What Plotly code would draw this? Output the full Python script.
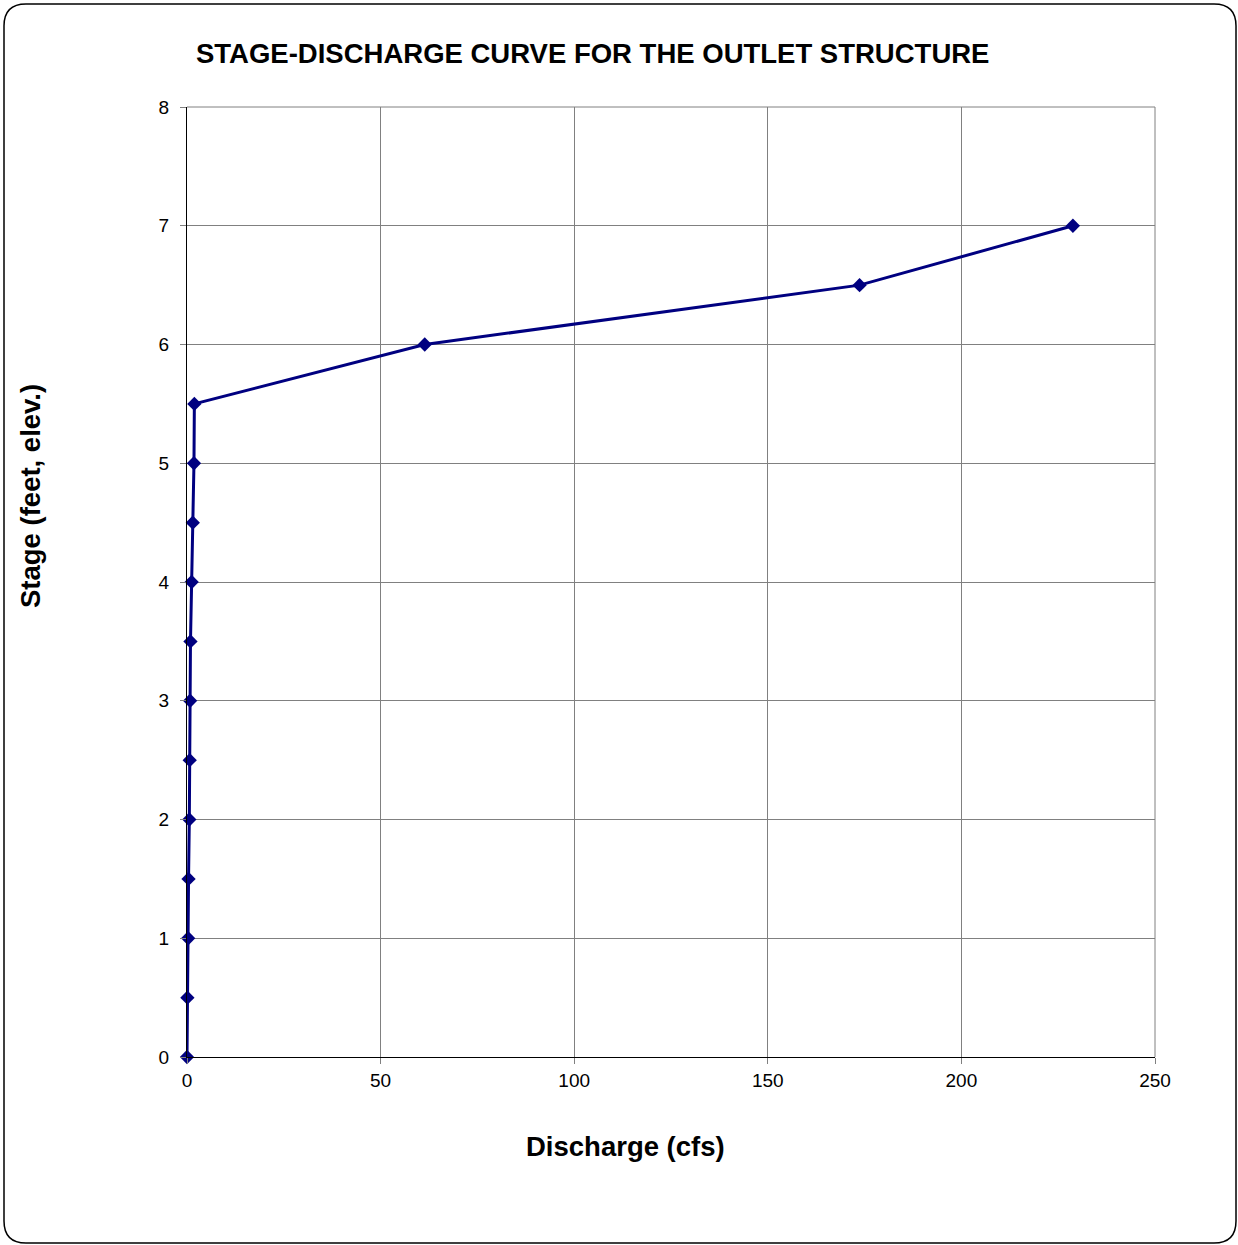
import plotly.graph_objects as go

discharge = [0, 0.1, 0.3, 0.4, 0.6, 0.7, 0.8, 0.9, 1.2, 1.5, 1.8, 1.9, 61.4, 173.7, 228.8]
stage = [0, 0.5, 1.0, 1.5, 2.0, 2.5, 3.0, 3.5, 4.0, 4.5, 5.0, 5.5, 6.0, 6.5, 7.0]

W, H = 1238, 1245
L, R, T, B = 187, 1155, 107, 1057

fig = go.Figure()
fig.add_trace(go.Scatter(
    x=discharge, y=stage, mode="lines+markers",
    line=dict(color="#000080", width=3),
    marker=dict(symbol="diamond", size=11, color="#000080"),
    showlegend=False, cliponaxis=False,
))

font = "Liberation Sans, Arial, sans-serif"

def px(x):
    return (x - L) / (R - L)

def py(y):
    return (B - y) / (B - T)

# rounded frame
x0, y0, x1, y1, r = 4, 4, 1236, 1243, 22
path = (f"M {px(x0+r)},{py(y0)} L {px(x1-r)},{py(y0)} Q {px(x1)},{py(y0)} {px(x1)},{py(y0+r)} "
        f"L {px(x1)},{py(y1-r)} Q {px(x1)},{py(y1)} {px(x1-r)},{py(y1)} "
        f"L {px(x0+r)},{py(y1)} Q {px(x0)},{py(y1)} {px(x0)},{py(y1-r)} "
        f"L {px(x0)},{py(y0+r)} Q {px(x0)},{py(y0)} {px(x0+r)},{py(y0)} Z")

fig.update_layout(
    width=W, height=H,
    margin=dict(l=L, r=W - R, t=T, b=H - B),
    paper_bgcolor="white", plot_bgcolor="white",
    font=dict(family=font, size=19, color="black"),
    shapes=[
        dict(type="path", xref="paper", yref="paper", path=path,
             line=dict(color="black", width=1.5), layer="below"),
        dict(type="line", xref="paper", yref="paper", x0=1, x1=1, y0=0, y1=1,
             line=dict(color="#808080", width=1), layer="below"),
        dict(type="line", xref="paper", yref="paper", x0=0, x1=1, y0=1, y1=1,
             line=dict(color="#808080", width=1), layer="below"),
    ],
    annotations=[
        dict(text="<b>STAGE-DISCHARGE CURVE FOR THE OUTLET STRUCTURE</b>",
             xref="paper", yref="paper", x=px(592), y=py(54), showarrow=False,
             font=dict(size=27.5, family=font), xanchor="center", yanchor="middle"),
        dict(text="<b>Stage (feet, elev.)</b>", xref="paper", yref="paper",
             x=px(30), y=py(496), textangle=-90, showarrow=False,
             font=dict(size=27.5, family=font), xanchor="center", yanchor="middle"),
        dict(text="<b>Discharge (cfs)</b>", xref="paper", yref="paper",
             x=px(625), y=py(1146), showarrow=False,
             font=dict(size=27.5, family=font), xanchor="center", yanchor="middle"),
    ],
)
fig.update_xaxes(range=[0, 250], tickvals=[0, 50, 100, 150, 200, 250],
                 showgrid=True, gridcolor="#808080", gridwidth=1,
                 showline=True, linecolor="black", linewidth=1, mirror=False,
                 ticks="outside", ticklen=6, tickcolor="#808080", zeroline=False,
                 ticklabelstandoff=0, tickfont=dict(size=19))
fig.update_yaxes(range=[0, 8], tickvals=list(range(0, 9)),
                 showgrid=True, gridcolor="#808080", gridwidth=1,
                 showline=True, linecolor="black", linewidth=1, mirror=False,
                 ticks="outside", ticklen=6, tickcolor="#808080", zeroline=False,
                 ticklabelstandoff=7, tickfont=dict(size=19))

fig.write_html("out.html")
